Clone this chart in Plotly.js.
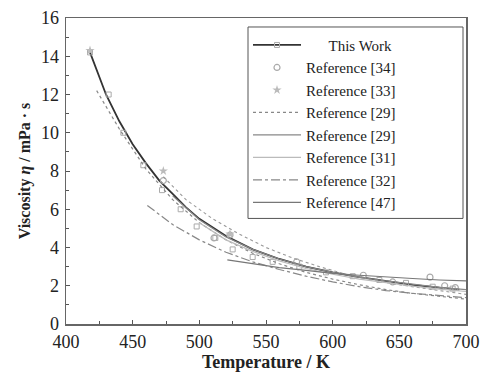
<!DOCTYPE html>
<html><head><meta charset="utf-8">
<script src="https://cdn.plot.ly/plotly-3.0.1.min.js"></script>
<style>body{margin:0;background:#fff}#c{width:485px;height:374px}</style>
</head><body><div id="c"></div>
<script>
// This Work: fitted line
const twLineT = [418,430,440,450,460,470,480,490,500,520,540,560,580,600,620,640,660,680,695];
const twLineV = [14.2,12.0,10.6,9.4,8.4,7.5,6.8,6.1,5.5,4.6,3.9,3.4,3.0,2.7,2.45,2.25,2.05,1.9,1.8];
// This Work: measured points
const twPtT = [418,432,443,458,472,486,498,512,525,540,555,575,595,615,635,655,675,690];
const twPtV = [14.2,12.0,10.0,8.3,7.0,6.0,5.1,4.5,3.9,3.5,3.25,3.0,2.7,2.5,2.3,2.15,1.95,1.85];
// Reference [34]
const r34T = [473,511,523,573,623,645,673,684,692];
const r34V = [7.5,4.5,4.65,3.25,2.55,2.2,2.45,2.0,1.9];
// Reference [33]
const r33T = [418,473,523];
const r33V = [14.3,8.0,4.7];
// Reference [29] (dotted)
const r29aT = [423,440,460,480,500,520,540,560,580,600,620,640,660,680,700];
const r29aV = [12.2,10.2,8.1,6.5,5.3,4.4,3.7,3.15,2.7,2.35,2.05,1.8,1.6,1.45,1.3];
const r29cT = [473,490,510,530,550,570,590,610,630,650,670,690,700];
const r29cV = [7.7,6.5,5.5,4.7,4.0,3.45,3.0,2.6,2.3,2.05,1.85,1.65,1.55];
// Reference [29] (solid)
const r29bT = [480,500,520,540,560,580,600,620,640,660,680,700];
const r29bV = [6.7,5.45,4.55,3.9,3.4,3.0,2.7,2.45,2.25,2.08,1.92,1.8];
// Reference [31]
const r31T = [500,520,540,560,580,600,620,640,660,680,700];
const r31V = [5.3,4.4,3.8,3.3,2.9,2.6,2.35,2.15,1.98,1.82,1.7];
// Reference [32]
const r32T = [461,480,500,520,540,560,580,600,620,640,660,680,700];
const r32V = [6.2,5.2,4.4,3.75,3.25,2.85,2.5,2.2,1.95,1.75,1.6,1.48,1.38];
// Reference [47]
const r47T = [521,540,560,580,600,620,640,660,680,700];
const r47V = [3.35,3.15,2.95,2.8,2.65,2.55,2.45,2.38,2.3,2.25];

const F = '"Liberation Serif", "Times New Roman", serif';
const NB = '\u00a0';
const traces = [
  {x: twLineT, y: twLineV, mode:'lines', line:{color:'#333', width:1.8}, showlegend:false, hoverinfo:'skip'},
  {x: twPtT, y: twPtV, mode:'markers', showlegend:false, marker:{symbol:'square-open', size:5, color:'#aaa', line:{width:1}}},
  {x: [null], y: [null], mode:'markers+lines', name:NB.repeat(6)+'This Work',
   line:{color:'#333', width:1.8}, marker:{symbol:'square-open', size:5, color:'#aaa', line:{width:1}}},
  {x: r34T, y: r34V, mode:'markers', name:'Reference [34]', marker:{symbol:'circle-open', size:6, color:'#aaa', line:{width:1.2}}},
  {x: r33T, y: r33V, mode:'markers', name:'Reference [33]', marker:{symbol:'star', size:7, color:'#bbb'}},
  {x: r29aT, y: r29aV, mode:'lines', name:'Reference [29]', legendgroup:'r29a', line:{color:'#888', width:1.2, dash:'dot'}},
  {x: r29cT, y: r29cV, mode:'lines', legendgroup:'r29a', showlegend:false, line:{color:'#999', width:1.1, dash:'dot'}},
  {x: r29bT, y: r29bV, mode:'lines', name:'Reference [29]', line:{color:'#888', width:1.2}},
  {x: r31T, y: r31V, mode:'lines', name:'Reference [31]', line:{color:'#bbb', width:1.2}},
  {x: r32T, y: r32V, mode:'lines', name:'Reference [32]', line:{color:'#888', width:1.2, dash:'dashdot'}},
  {x: r47T, y: r47V, mode:'lines', name:'Reference [47]', line:{color:'#777', width:1.2}}
];
const layout = {
  width:485, height:374,
  margin:{l:66, r:19, t:18, b:50},
  paper_bgcolor:'#fff', plot_bgcolor:'#fff',
  font:{family:F, size:18, color:'#222'},
  showlegend:true,
  legend:{x:0.455, y:0.965, xanchor:'left', yanchor:'top', bgcolor:'rgba(0,0,0,0)', borderwidth:0,
          font:{family:F, size:15, color:'#222'}, tracegroupgap:0, itemwidth:48},
  shapes:[{type:'rect', xref:'paper', yref:'paper', x0:0.455, x1:0.9925, y0:0.345, y1:0.9706,
           line:{color:'#555', width:1}, fillcolor:'#fff', layer:'below'}],
  xaxis:{range:[400,700], dtick:50, ticks:'inside', ticklen:4, tickcolor:'#555', showline:true, linecolor:'#666', linewidth:1.5,
         mirror:true, showgrid:false, zeroline:false, tickfont:{family:F, size:18, color:'#222'}, ticklabelstandoff:1,
         minor:{dtick:25, ticks:'inside', ticklen:3, tickcolor:'#555'},
         title:{text:'<b>Temperature / K</b>', font:{family:F, size:18, color:'#222'}, standoff:0}},
  yaxis:{range:[0,16], dtick:2, ticks:'inside', ticklen:4, tickcolor:'#555', showline:true, linecolor:'#666', linewidth:1.5,
         mirror:true, showgrid:false, zeroline:false, tickfont:{family:F, size:18, color:'#222'}, ticklabelstandoff:2,
         minor:{dtick:1, ticks:'inside', ticklen:3, tickcolor:'#555'},
         title:{text:'<b>Viscosity <i>η</i> / mPa · s</b>', font:{family:F, size:16, color:'#222'}, standoff:6}}
};
Plotly.newPlot('c', traces, layout, {displayModeBar:false, staticPlot:true});
</script></body></html>
